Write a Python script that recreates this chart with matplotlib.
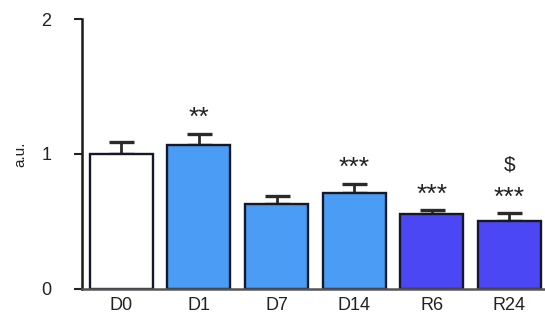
import matplotlib.pyplot as plt

plt.rcParams['font.family'] = ['Liberation Sans', 'DejaVu Sans']

categories = ["D0", "D1", "D7", "D14", "R6", "R24"]
values = [1.00, 1.07, 0.63, 0.71, 0.555, 0.50]
errors = [0.09, 0.08, 0.06, 0.07, 0.03, 0.06]
colors = ["#ffffff", "#4a9cf4", "#4a9cf4", "#4a9cf4", "#4b47f5", "#4b47f5"]
stars = ["", "**", "", "***", "***", "***"]
dollar = ["", "", "", "", "", "$"]

fig = plt.figure(figsize=(5.45, 3.28), dpi=100)
ax = fig.add_axes([0.150, 0.119, 0.85, 0.823])

x = list(range(len(categories)))
ax.bar(x, values, width=0.81, color=colors, edgecolor="#15182a", linewidth=1.7, zorder=2)
ax.errorbar(x, values, yerr=[[0] * len(errors), errors], fmt="none",
            ecolor="#2a2a2a", elinewidth=2, capsize=9, capthick=2.4, zorder=1)

# significance marks above error bars
for i in x:
    top = values[i] + errors[i]
    if stars[i]:
        ax.text(i, top + 0.115, stars[i], ha="center", va="center", fontsize=19,
                color="#222222")
    if dollar[i]:
        ax.text(i, top + 0.36, dollar[i], ha="center", va="center", fontsize=15, color="#222222")

ax.set_xlim(-0.51, 5.46)
ax.set_ylim(0, 2)
ax.set_yticks([0, 1, 2])
ax.set_xticks(x)
ax.set_xticklabels(categories, fontsize=13, color="#222222")
ax.tick_params(axis="y", labelsize=13, length=6, width=1.5, direction="out", pad=16, colors="#222222")
ax.tick_params(axis="x", length=0, pad=6)
ax.set_ylabel("a.u.", fontsize=11, color="#222222", labelpad=10)

ax.spines["top"].set_visible(False)
ax.spines["right"].set_visible(False)
ax.spines["left"].set_linewidth(1.8)
ax.spines["bottom"].set_linewidth(1.8)
ax.spines["left"].set_color("#1a1a1a")
ax.spines["bottom"].set_color("#555555")

fig.savefig("out.png", dpi=100)
